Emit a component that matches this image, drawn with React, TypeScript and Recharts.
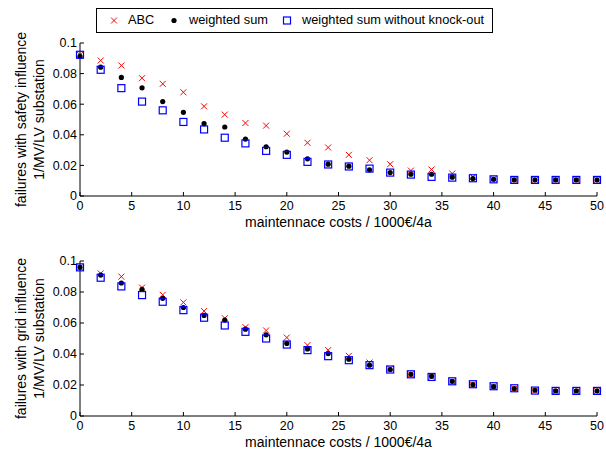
import React from 'react';
import { ScatterChart, Scatter, XAxis, YAxis, Label } from 'recharts';

const costs = [0, 2, 4, 6, 8, 10, 12, 14, 16, 18, 20, 22, 24, 26, 28, 30, 32, 34, 36, 38, 40, 42, 44, 46, 48, 50];
const xTicks = [0, 5, 10, 15, 20, 25, 30, 35, 40, 45, 50];
const yTicks = [0, 0.02, 0.04, 0.06, 0.08, 0.1];

// safety influence
const abcSafety = [0.0923, 0.0886, 0.0853, 0.077, 0.0733, 0.0678, 0.0586, 0.0532, 0.0477, 0.046, 0.0407, 0.0348, 0.0317, 0.0269, 0.0234, 0.0208, 0.0166, 0.0173, 0.0147, 0.0125, 0.0112, 0.0105, 0.0105, 0.0105, 0.0105, 0.0105];
const wsSafety = [0.0912, 0.0842, 0.0775, 0.0707, 0.0617, 0.0547, 0.0473, 0.0451, 0.0372, 0.0322, 0.0287, 0.0243, 0.0208, 0.0195, 0.0171, 0.0153, 0.0142, 0.0142, 0.0123, 0.0114, 0.0109, 0.0105, 0.0105, 0.0105, 0.0105, 0.0105];
const wsnkSafety = [0.0923, 0.0825, 0.0705, 0.0617, 0.056, 0.0484, 0.0435, 0.0381, 0.0344, 0.0295, 0.0269, 0.0223, 0.0206, 0.0193, 0.0179, 0.0153, 0.014, 0.0125, 0.012, 0.0116, 0.0109, 0.0105, 0.0105, 0.0105, 0.0105, 0.0105];

// grid influence
const abcGrid = [0.0959, 0.092, 0.0899, 0.0828, 0.0782, 0.0733, 0.0677, 0.0631, 0.0573, 0.0552, 0.0506, 0.0457, 0.0425, 0.0388, 0.0345, 0.0306, 0.0269, 0.0252, 0.0224, 0.0203, 0.019, 0.0177, 0.0164, 0.0159, 0.0159, 0.0162];
const wsGrid = [0.0959, 0.0909, 0.0858, 0.0817, 0.0759, 0.07, 0.0649, 0.0619, 0.056, 0.0524, 0.0468, 0.0433, 0.0403, 0.0366, 0.0328, 0.03, 0.0269, 0.0256, 0.0224, 0.0203, 0.019, 0.0177, 0.0166, 0.0162, 0.0162, 0.0162];
const wsnkGrid = [0.0959, 0.0892, 0.0836, 0.078, 0.0737, 0.0683, 0.0634, 0.0584, 0.0543, 0.05, 0.0461, 0.0425, 0.0386, 0.036, 0.0328, 0.03, 0.0269, 0.0252, 0.0224, 0.0205, 0.0192, 0.0179, 0.0164, 0.0162, 0.0162, 0.0162];

const FONT = '"Liberation Sans", Arial, sans-serif';
const RED = '#ff0000';
const BLUE = '#0000ff';

const toPoints = (vals: number[]) => costs.map((x, i) => ({ x, y: vals[i] }));

const CrossMark = (p: any) => (
    <g stroke={RED} strokeWidth={1}>
        <line x1={p.cx - 3} y1={p.cy - 3} x2={p.cx + 3} y2={p.cy + 3} />
        <line x1={p.cx - 3} y1={p.cy + 3} x2={p.cx + 3} y2={p.cy - 3} />
    </g>
);
const DotMark = (p: any) => <circle cx={p.cx} cy={p.cy} r={2.6} fill="#000" />;
const SquareMark = (p: any) => (
    <rect x={p.cx - 3.5} y={p.cy - 3.5} width={7} height={7} fill="none" stroke={BLUE} strokeWidth={1.2} />
);

const tickStyle = { fill: '#000', fontSize: 12.5, fontFamily: FONT };
const fmtY = (v: number) => (v === 0 ? '0' : String(v));

function Panel({ abc, ws, wsnk, line1, line2, top, height, margin }: any) {
    const yLabel = (props: any) => {
        const vb = props.viewBox;
        const cy = vb.y + vb.height / 2;
        return (
            <g fontFamily={FONT} fontSize={14} fill="#000">
                <text x={21} y={cy} transform={`rotate(-90 21 ${cy})`} textAnchor="middle" dominantBaseline="central">{line1}</text>
                <text x={39} y={cy} transform={`rotate(-90 39 ${cy})`} textAnchor="middle" dominantBaseline="central">{line2}</text>
            </g>
        );
    };
    return (
        <div style={{ position: 'absolute', left: 0, top }}>
            <ScatterChart width={606} height={height} margin={margin}>
                <XAxis xAxisId="b" dataKey="x" type="number" domain={[0, 50]} ticks={xTicks} stroke="#000"
                    tickSize={-4} tickMargin={9} height={20} tick={tickStyle} interval={0}>
                    <Label value="maintennace costs / 1000€/4a" position="bottom" offset={1} fill="#000" fontSize={14} fontFamily={FONT} />
                </XAxis>
                <XAxis xAxisId="t" orientation="top" type="number" domain={[0, 50]} ticks={xTicks} stroke="#000"
                    tickSize={-4} height={0} tickFormatter={() => ''} interval={0} />
                <YAxis yAxisId="l" dataKey="y" type="number" domain={[0, 0.1]} ticks={yTicks} stroke="#000"
                    tickSize={-4} tickMargin={7} width={80} tick={tickStyle} tickFormatter={fmtY} interval={0}>
                    <Label content={yLabel} />
                </YAxis>
                <YAxis yAxisId="r" orientation="right" type="number" domain={[0, 0.1]} ticks={yTicks} stroke="#000"
                    tickSize={-4} width={0} tickFormatter={() => ''} interval={0} />
                <Scatter name="ABC" data={toPoints(abc)} xAxisId="b" yAxisId="l" shape={CrossMark} isAnimationActive={false} />
                <Scatter name="weighted sum" data={toPoints(ws)} xAxisId="b" yAxisId="l" shape={DotMark} isAnimationActive={false} />
                <Scatter name="weighted sum without knock-out" data={toPoints(wsnk)} xAxisId="b" yAxisId="l" shape={SquareMark} isAnimationActive={false} />
            </ScatterChart>
        </div>
    );
}

function LegendBox() {
    const txt: React.CSSProperties = { position: 'absolute', top: 3, fontSize: 12.8, lineHeight: '16px', whiteSpace: 'nowrap' };
    return (
        <div style={{ position: 'absolute', left: 96, top: 8, width: 395, height: 23, border: '1px solid #000', background: '#fff', fontFamily: FONT, color: '#000', zIndex: 2 }}>
            <svg width={395} height={23} style={{ position: 'absolute', left: 0, top: 0 }}>
                <CrossMark cx={17} cy={11.5} />
                <DotMark cx={77} cy={11.5} />
                <SquareMark cx={190} cy={11.5} />
            </svg>
            <span style={{ ...txt, left: 31 }}>ABC</span>
            <span style={{ ...txt, left: 92 }}>weighted sum</span>
            <span style={{ ...txt, left: 205 }}>weighted sum without knock-out</span>
        </div>
    );
}

export default function App() {
    return (
        <div style={{ position: 'absolute', left: 0, top: 0, width: 606, height: 450, background: '#fff' }}>
            <Panel abc={abcSafety} ws={wsSafety} wsnk={wsnkSafety}
                line1="failures with safety influence" line2="1/MV/LV substation"
                top={0} height={240} margin={{ top: 43, right: 9, left: 0, bottom: 24 }} />
            <Panel abc={abcGrid} ws={wsGrid} wsnk={wsnkGrid}
                line1="failures with grid influence" line2="1/MV/LV substation"
                top={225} height={225} margin={{ top: 36, right: 9, left: 0, bottom: 14 }} />
            <LegendBox />
        </div>
    );
}
